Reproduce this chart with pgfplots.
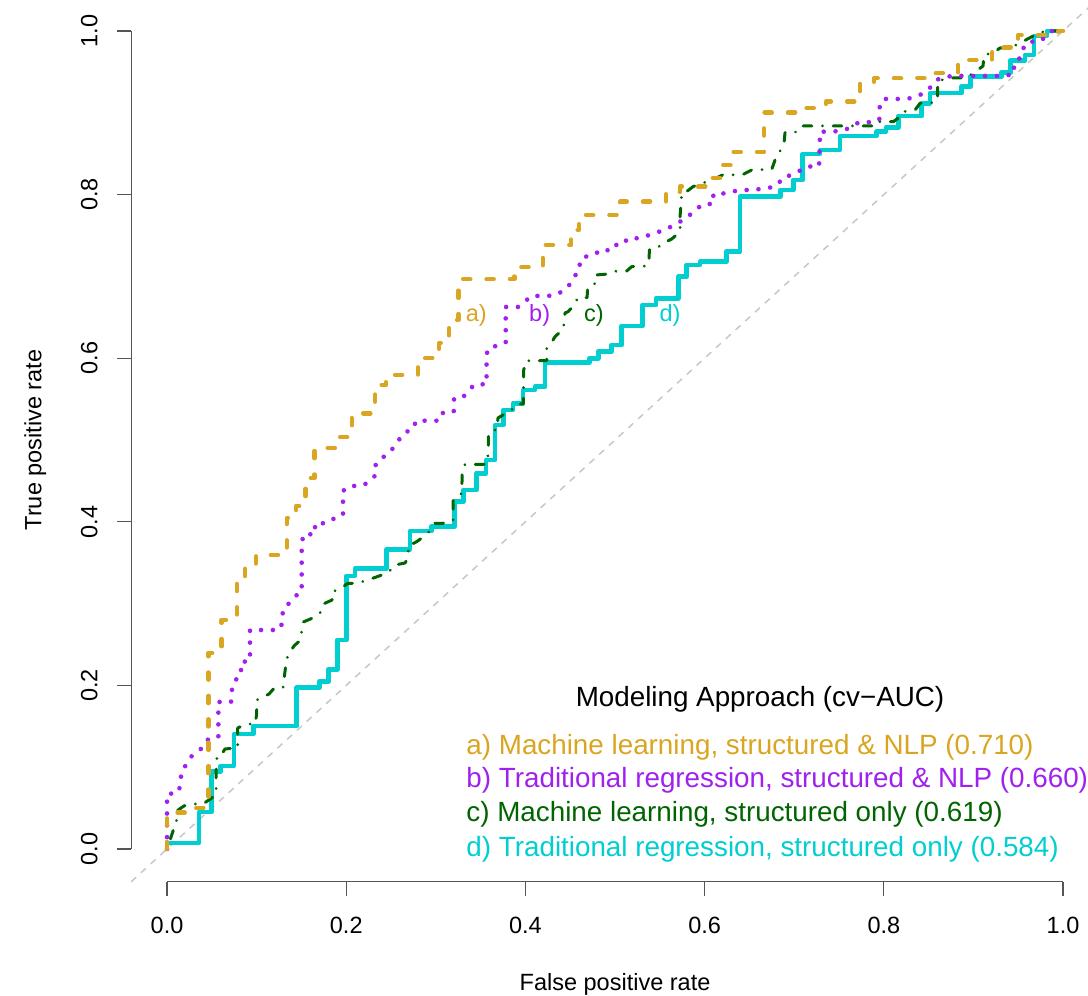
\documentclass[border=0pt]{standalone}
\usepackage{pgfplots}
\pgfplotsset{compat=1.18}
\usepackage{fontspec}
\setmainfont{Liberation Sans}

\definecolor{cgold}{HTML}{DAA520}
\definecolor{cpurple}{HTML}{A020F0}
\definecolor{cgreen}{HTML}{006400}
\definecolor{cturq}{HTML}{00CED1}
\definecolor{caxis}{HTML}{555555}

\newcommand\ticksize{\fontsize{11.75bp}{14bp}\selectfont}
\newcommand\legsize{\fontsize{13.9bp}{16.5bp}\selectfont}

\begin{document}
\begin{tikzpicture}
\begin{axis}[
    at={(0,0)}, anchor=south west,
    scale only axis,
    width=483.84bp, height=441.72bp,
    xmin=-0.04, xmax=1.04, ymin=-0.04, ymax=1.04,
    axis x line*=bottom, axis y line*=left,
    axis line style={draw=none},
    xtick={0,0.2,0.4,0.6,0.8,1}, ytick={0,0.2,0.4,0.6,0.8,1},
    xticklabels={}, yticklabels={},
    tick align=outside, major tick length=7bp,
    tick style={caxis, line width=0.6bp},
    clip=false,
    every axis plot/.append style={line join=round},
]

% reference diagonal
\addplot[black!22, line width=0.75bp, dash pattern=on 3.3bp off 3.3bp]
    coordinates {(-0.04,-0.04) (1.04,1.04)};

% d) traditional regression, structured only
\addplot[cturq, line width=2.4bp] coordinates {
(0,0) (0,0.0073) (0.0357,0.0073) (0.0357,0.0452) (0.0499,0.0452) (0.0499,0.0945)
(0.0599,0.0945) (0.0599,0.1015) (0.0748,0.1015) (0.0748,0.1406) (0.0963,0.1406)
(0.0963,0.1504) (0.1448,0.1504) (0.1448,0.1972) (0.1700,0.1972) (0.1700,0.2045)
(0.1800,0.2045) (0.1800,0.2197) (0.1901,0.2197) (0.1901,0.2555) (0.2000,0.2555)
(0.2000,0.3337) (0.2098,0.3337) (0.2098,0.3431) (0.2452,0.3431) (0.2452,0.3664)
(0.2712,0.3664) (0.2712,0.3888) (0.2954,0.3888) (0.2954,0.3940) (0.3206,0.3940)
(0.3206,0.4246) (0.3307,0.4246) (0.3307,0.4389) (0.3456,0.4389) (0.3456,0.4593)
(0.3560,0.4593) (0.3560,0.4756) (0.3661,0.4756) (0.3661,0.5183) (0.3753,0.5183)
(0.3753,0.5367) (0.3862,0.5367) (0.3862,0.5449) (0.3973,0.5449) (0.3973,0.5611)
(0.4107,0.5611) (0.4107,0.5652) (0.4219,0.5652) (0.4219,0.5945) (0.4713,0.5945)
(0.4713,0.5999) (0.4813,0.5999) (0.4813,0.6079) (0.4963,0.6079) (0.4963,0.6161)
(0.5075,0.6161) (0.5075,0.6394) (0.5309,0.6394) (0.5309,0.6650) (0.5458,0.6650)
(0.5458,0.6732) (0.5706,0.6732) (0.5706,0.6996) (0.5800,0.6996) (0.5800,0.7139)
(0.5949,0.7139) (0.5949,0.7180) (0.6244,0.7180) (0.6244,0.7302) (0.6395,0.7302)
(0.6395,0.7974) (0.6845,0.7974) (0.6845,0.8056) (0.6990,0.8056) (0.6990,0.8178)
(0.7095,0.8178) (0.7095,0.8496) (0.7288,0.8496) (0.7288,0.8545) (0.7511,0.8545)
(0.7511,0.8716) (0.7921,0.8716) (0.7921,0.8769) (0.8025,0.8769) (0.8025,0.8822)
(0.8162,0.8822) (0.8162,0.8961) (0.8423,0.8961) (0.8423,0.9116) (0.8516,0.9116)
(0.8516,0.9242) (0.8869,0.9242) (0.8869,0.9320) (0.8970,0.9320) (0.8970,0.9442)
(0.9316,0.9442) (0.9316,0.9491) (0.9416,0.9491) (0.9416,0.9638) (0.9576,0.9638)
(0.9576,0.9707) (0.9676,0.9707) (0.9676,0.9939) (0.9821,0.9939) (0.9821,1) (1,1)
};

% c) machine learning, structured only
\addplot[cgreen, line width=1.5bp, line cap=round,
    dash pattern=on 0.01bp off 5.3bp on 4.4bp off 5.3bp] coordinates {
(0,0) (0.0108,0.0355) (0.0108,0.0465) (0.0190,0.0526) (0.0257,0.0550) (0.0402,0.0550)
(0.0547,0.0660) (0.0547,0.0941) (0.0558,0.1125) (0.0592,0.1125) (0.0647,0.1223)
(0.0789,0.1235) (0.0789,0.1479) (0.0882,0.1528) (0.0982,0.1528) (0.1001,0.1650)
(0.1001,0.1822) (0.1057,0.1846) (0.1138,0.1895) (0.1205,0.1977) (0.1295,0.1977)
(0.1328,0.2274) (0.1350,0.2372) (0.1417,0.2482) (0.1490,0.2555) (0.1501,0.2653)
(0.1521,0.2775) (0.1652,0.2836) (0.1708,0.2885) (0.1744,0.2995) (0.1842,0.3044)
(0.1842,0.3142) (0.1939,0.3187) (0.2020,0.3248) (0.2121,0.3248) (0.2243,0.3289)
(0.2366,0.3337) (0.2467,0.3378) (0.2545,0.3472) (0.2656,0.3496) (0.2690,0.3557)
(0.2693,0.3704) (0.2787,0.3757) (0.2843,0.3802) (0.2935,0.3888) (0.2991,0.3982)
(0.3080,0.3982) (0.3192,0.4013) (0.3192,0.4267) (0.3289,0.4348) (0.3292,0.4490)
(0.3292,0.4600) (0.3326,0.4703) (0.3560,0.4703) (0.3586,0.4829) (0.3588,0.5086)
(0.3680,0.5131) (0.3694,0.5269) (0.3750,0.5306) (0.3836,0.5354) (0.3903,0.5440)
(0.3977,0.5440) (0.3977,0.5591) (0.3981,0.5856) (0.4007,0.5969) (0.4238,0.5969)
(0.4238,0.6125) (0.4308,0.6222) (0.4330,0.6263) (0.4423,0.6357) (0.4442,0.6553)
(0.4475,0.6568) (0.4535,0.6638) (0.4587,0.6740) (0.4688,0.6740) (0.4695,0.6870)
(0.4788,0.6919) (0.4788,0.7017) (0.4922,0.7029) (0.5019,0.7066) (0.5131,0.7066)
(0.5186,0.7119) (0.5346,0.7127) (0.5379,0.7167) (0.5383,0.7323) (0.5483,0.7347)
(0.5502,0.7384) (0.5633,0.7457) (0.5726,0.7547) (0.5726,0.7738) (0.5737,0.7897)
(0.5744,0.8020) (0.5815,0.8050) (0.5871,0.8097) (0.5982,0.8142) (0.6083,0.8178)
(0.6202,0.8240) (0.6302,0.8240) (0.6432,0.8248) (0.6526,0.8301) (0.6749,0.8309)
(0.6786,0.8423) (0.6819,0.8484) (0.6886,0.8627) (0.6897,0.8757) (0.7009,0.8757)
(0.7065,0.8839) (0.7924,0.8839) (0.7946,0.8891) (0.8106,0.8891) (0.8181,0.8952)
(0.8211,0.9013) (0.8348,0.9034) (0.8404,0.9116) (0.8516,0.9116) (0.8601,0.9156)
(0.8601,0.9303) (0.8605,0.9389) (0.8731,0.9425) (0.8925,0.9429) (0.9018,0.9499)
(0.9107,0.9572) (0.9118,0.9707) (0.9215,0.9731) (0.9297,0.9792) (0.9408,0.9792)
(0.9520,0.9853) (0.9688,0.9951) (0.9799,1) (1,1)
};

% b) traditional regression, structured & NLP
\addplot[cpurple, line width=2.3bp, line cap=round,
    dash pattern=on 0.01bp off 5.9bp] coordinates {
(0,0) (0,0.0672) (0.0123,0.0685) (0.0156,0.0807) (0.0156,0.0941) (0.0220,0.1039)
(0.0265,0.1125) (0.0405,0.1247) (0.0461,0.1345) (0.0573,0.1369) (0.0573,0.1797)
(0.0714,0.1797) (0.0722,0.1932) (0.0748,0.2054) (0.0826,0.2115) (0.0826,0.2286)
(0.0926,0.2298) (0.0926,0.2677) (0.1250,0.2677) (0.1291,0.2775) (0.1291,0.2922)
(0.1354,0.2995) (0.1417,0.3081) (0.1503,0.3142) (0.1503,0.3716) (0.1521,0.3847)
(0.1652,0.3847) (0.1652,0.3982) (0.1782,0.3982) (0.1867,0.4043) (0.1964,0.4083)
(0.1964,0.4377) (0.2037,0.4438) (0.2173,0.4438) (0.2258,0.4490) (0.2329,0.4572)
(0.2329,0.4707) (0.2396,0.4776) (0.2470,0.4837) (0.2537,0.4918) (0.2593,0.5009)
(0.2645,0.5089) (0.2746,0.5131) (0.2779,0.5236) (0.3047,0.5236) (0.3084,0.5346)
(0.3203,0.5354) (0.3203,0.5510) (0.3307,0.5529) (0.3432,0.5681) (0.3566,0.5681)
(0.3566,0.5978) (0.3575,0.6109) (0.3672,0.6149) (0.3780,0.6190) (0.3780,0.6626)
(0.3918,0.6626) (0.3996,0.6691) (0.4059,0.6760) (0.4319,0.6764) (0.4405,0.6813)
(0.4479,0.6874) (0.4528,0.6977) (0.4602,0.7070) (0.4609,0.7200) (0.4758,0.7290)
(0.4900,0.7290) (0.4952,0.7384) (0.5086,0.7384) (0.5142,0.7466) (0.5271,0.7466)
(0.5383,0.7506) (0.5494,0.7547) (0.5577,0.7576) (0.5651,0.7628) (0.5726,0.7669)
(0.5792,0.7710) (0.5856,0.7771) (0.5979,0.7885) (0.6097,0.7885) (0.6097,0.8007)
(0.6247,0.8016) (0.6358,0.8048) (0.6470,0.8056) (0.6596,0.8065) (0.6719,0.8081)
(0.6814,0.8117) (0.6872,0.8212) (0.6975,0.8240) (0.7057,0.8289) (0.7140,0.8343)
(0.7277,0.8343) (0.7288,0.8769) (0.7419,0.8769) (0.7545,0.8784) (0.7634,0.8823)
(0.7723,0.8885) (0.7852,0.8885) (0.7950,0.8912) (0.7950,0.9059) (0.7991,0.9169)
(0.8256,0.9169) (0.8367,0.9197) (0.8454,0.9248) (0.8538,0.9328) (0.8590,0.9401)
(0.8683,0.9441) (0.8806,0.9450) (0.9334,0.9450) (0.9453,0.9474) (0.9453,0.9613)
(0.9531,0.9679) (0.9557,0.9789) (0.9613,0.9869) (0.9743,0.9869) (0.9810,0.9939)
(0.9877,1) (1,1)
};

% a) machine learning, structured & NLP
\addplot[cgold, line width=2.2bp, line cap=round,
    dash pattern=on 3.6bp off 8.1bp] coordinates {
(0,0) (0,0.0444) (0.0324,0.0444) (0.0324,0.0501) (0.0461,0.0501) (0.0461,0.2396)
(0.0610,0.2396) (0.0610,0.2800) (0.0778,0.2800) (0.0778,0.3252) (0.0871,0.3252)
(0.0871,0.3447) (0.0993,0.3447) (0.0993,0.3594) (0.1336,0.3594) (0.1336,0.4046)
(0.1440,0.4046) (0.1440,0.4193) (0.1546,0.4193) (0.1546,0.4535) (0.1646,0.4535)
(0.1646,0.4902) (0.1931,0.4902) (0.1931,0.5037) (0.2061,0.5037) (0.2061,0.5326)
(0.2321,0.5326) (0.2321,0.5672) (0.2444,0.5672) (0.2444,0.5795) (0.2801,0.5795)
(0.2801,0.5999) (0.3036,0.5999) (0.3036,0.6182) (0.3147,0.6182) (0.3147,0.6467)
(0.3251,0.6467) (0.3251,0.6965) (0.3876,0.6965) (0.3876,0.7111) (0.4193,0.7111)
(0.4193,0.7384) (0.4509,0.7384) (0.4509,0.7567) (0.4598,0.7567) (0.4598,0.7751)
(0.5056,0.7751) (0.5056,0.7913) (0.5569,0.7913) (0.5569,0.8035) (0.5725,0.8035)
(0.5725,0.8097) (0.6083,0.8097) (0.6083,0.8203) (0.6205,0.8203) (0.6205,0.8362)
(0.6300,0.8362) (0.6300,0.8521) (0.6663,0.8521) (0.6663,0.9001) (0.7109,0.9001)
(0.7109,0.9059) (0.7355,0.9059) (0.7355,0.9136) (0.7734,0.9136) (0.7734,0.9377)
(0.7891,0.9377) (0.7891,0.9422) (0.8516,0.9422) (0.8516,0.9483) (0.8828,0.9483)
(0.8828,0.9645) (0.9208,0.9645) (0.9208,0.9798) (0.9498,0.9798) (0.9498,0.9951)
(0.9944,0.9951) (0.9944,1) (1,1)
};

% axis lines (R style: only over the tick range)
\draw[caxis, line width=0.6bp] (axis cs:0,-0.04) -- (axis cs:1,-0.04);
\draw[caxis, line width=0.6bp] (axis cs:-0.04,0) -- (axis cs:-0.04,1);

% tick labels
\pgfplotsinvokeforeach{0.0,0.2,0.4,0.6,0.8,1.0}{
  \node[anchor=base, inner sep=0pt, font=\ticksize]
    at ([yshift=-25.65bp]axis cs:#1,-0.04) {#1};
  \node[anchor=base, inner sep=0pt, rotate=90, font=\ticksize]
    at ([xshift=-16.85bp]axis cs:-0.04,#1) {#1};
}

% axis titles
\node[anchor=base, inner sep=0pt, font=\ticksize]
  at ([yshift=-54.15bp]axis cs:0.5,-0.04) {False positive rate};
\node[anchor=base, inner sep=0pt, rotate=90, font=\ticksize]
  at ([xshift=-44.85bp]axis cs:-0.04,0.5) {True positive rate};

% curve labels
\node[anchor=base, inner sep=0pt, font=\ticksize, text=cgold]   at (axis cs:0.3452,0.6443) {a)};
\node[anchor=base, inner sep=0pt, font=\ticksize, text=cpurple] at (axis cs:0.4159,0.6443) {b)};
\node[anchor=base, inner sep=0pt, font=\ticksize, text=cgreen]  at (axis cs:0.4764,0.6443) {c)};
\node[anchor=base, inner sep=0pt, font=\ticksize, text=cturq]   at (axis cs:0.5614,0.6443) {d)};

% legend
\node[anchor=base, inner sep=0pt, font=\legsize] at (axis cs:0.6618,0.1736) {Modeling Approach (cv−AUC)};
\node[anchor=base west, inner sep=0pt, font=\legsize, text=cgold]   at (axis cs:0.3337,0.1161) {a) Machine learning, structured \& NLP (0.710)};
\node[anchor=base west, inner sep=0pt, font=\legsize, text=cpurple] at (axis cs:0.3337,0.0746) {b) Traditional regression, structured \& NLP (0.660)};
\node[anchor=base west, inner sep=0pt, font=\legsize, text=cgreen]  at (axis cs:0.3337,0.0330) {c) Machine learning, structured only (0.619)};
\node[anchor=base west, inner sep=0pt, font=\legsize, text=cturq]   at (axis cs:0.3337,-0.0086) {d) Traditional regression, structured only (0.584)};
\end{axis}
\pgfresetboundingbox
\path[use as bounding box] (-65.6bp,-57.15bp) rectangle (478.4bp,440.85bp);
\end{tikzpicture}
\end{document}
